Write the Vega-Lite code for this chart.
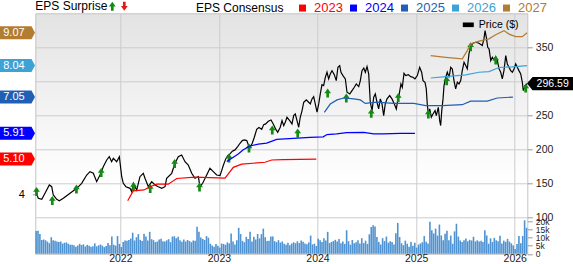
{
  "$schema": "https://vega.github.io/schema/vega-lite/v6.json",
  "width": 492,
  "height": 240.5,
  "autosize": {"type": "none"},
  "padding": {"left": 35.3, "top": 13.3, "right": 45.7, "bottom": 10.2},
  "background": "#ffffff",
  "view": {
    "stroke": "#c4c4c4",
    "strokeWidth": 1,
    "fill": {
      "gradient": "linear", "x1": 0, "y1": 0, "x2": 0, "y2": 1,
      "stops": [
        {"offset": 0, "color": "#e3e3e3"},
        {"offset": 0.45, "color": "#f5f5f5"},
        {"offset": 0.7, "color": "#ffffff"},
        {"offset": 1, "color": "#ffffff"}
      ]
    }
  },
  "config": {
    "font": "Liberation Sans",
    "axis": {"gridColor": "#cccccc", "gridWidth": 1, "domain": false, "tickColor": "#9a9a9a", "labelColor": "#222222", "labelFont": "Liberation Sans"},
    "legend": {"labelFont": "Liberation Sans", "titleFont": "Liberation Sans"}
  },
  "datasets": {
    "price": [
      {"t": 2021.138, "price": 140.0}, {"t": 2021.145, "price": 137.6}, {"t": 2021.168, "price": 127.9}, {"t": 2021.203, "price": 126.5},
      {"t": 2021.236, "price": 135.3}, {"t": 2021.280, "price": 147.5}, {"t": 2021.304, "price": 145.0}, {"t": 2021.320, "price": 132.8},
      {"t": 2021.355, "price": 126.5}, {"t": 2021.381, "price": 124.4}, {"t": 2021.422, "price": 127.9}, {"t": 2021.490, "price": 135.3},
      {"t": 2021.558, "price": 142.6}, {"t": 2021.608, "price": 150.0}, {"t": 2021.659, "price": 162.2}, {"t": 2021.692, "price": 167.1},
      {"t": 2021.726, "price": 164.7}, {"t": 2021.760, "price": 152.4}, {"t": 2021.794, "price": 162.2}, {"t": 2021.827, "price": 174.4},
      {"t": 2021.862, "price": 184.3}, {"t": 2021.888, "price": 189.1}, {"t": 2021.912, "price": 181.8}, {"t": 2021.929, "price": 186.8},
      {"t": 2021.963, "price": 181.8}, {"t": 2021.990, "price": 189.1}, {"t": 2022.014, "price": 159.7}, {"t": 2022.030, "price": 150.0},
      {"t": 2022.057, "price": 145.0}, {"t": 2022.098, "price": 142.6}, {"t": 2022.115, "price": 137.6}, {"t": 2022.132, "price": 150.0},
      {"t": 2022.166, "price": 140.1}, {"t": 2022.199, "price": 159.7}, {"t": 2022.233, "price": 164.7}, {"t": 2022.250, "price": 157.4},
      {"t": 2022.284, "price": 145.0}, {"t": 2022.318, "price": 152.4}, {"t": 2022.352, "price": 147.5}, {"t": 2022.385, "price": 145.0},
      {"t": 2022.420, "price": 142.6}, {"t": 2022.453, "price": 145.0}, {"t": 2022.470, "price": 157.4}, {"t": 2022.521, "price": 164.7},
      {"t": 2022.554, "price": 179.4}, {"t": 2022.588, "price": 189.1}, {"t": 2022.622, "price": 191.6}, {"t": 2022.656, "price": 181.8},
      {"t": 2022.689, "price": 176.9}, {"t": 2022.724, "price": 164.7}, {"t": 2022.757, "price": 157.4}, {"t": 2022.791, "price": 159.7},
      {"t": 2022.808, "price": 145.0}, {"t": 2022.835, "price": 150.0}, {"t": 2022.876, "price": 162.2}, {"t": 2022.909, "price": 172.1},
      {"t": 2022.943, "price": 167.1}, {"t": 2022.977, "price": 162.2}, {"t": 2023.011, "price": 161.4}, {"t": 2023.028, "price": 168.7},
      {"t": 2023.044, "price": 176.1}, {"t": 2023.069, "price": 185.9}, {"t": 2023.089, "price": 190.8}, {"t": 2023.112, "price": 193.2},
      {"t": 2023.136, "price": 197.3}, {"t": 2023.163, "price": 199.1}, {"t": 2023.190, "price": 204.0}, {"t": 2023.214, "price": 208.9},
      {"t": 2023.237, "price": 212.8}, {"t": 2023.257, "price": 213.8}, {"t": 2023.282, "price": 212.8}, {"t": 2023.298, "price": 206.9},
      {"t": 2023.315, "price": 203.0}, {"t": 2023.338, "price": 208.9}, {"t": 2023.359, "price": 217.7}, {"t": 2023.383, "price": 229.5},
      {"t": 2023.406, "price": 232.1}, {"t": 2023.434, "price": 229.5}, {"t": 2023.454, "price": 236.3}, {"t": 2023.474, "price": 237.3},
      {"t": 2023.501, "price": 241.2}, {"t": 2023.528, "price": 243.1}, {"t": 2023.551, "price": 237.3}, {"t": 2023.576, "price": 229.6},
      {"t": 2023.596, "price": 225.1}, {"t": 2023.622, "price": 232.4}, {"t": 2023.640, "price": 242.2}, {"t": 2023.657, "price": 234.9},
      {"t": 2023.673, "price": 239.8}, {"t": 2023.690, "price": 247.1}, {"t": 2023.718, "price": 242.2}, {"t": 2023.741, "price": 237.3},
      {"t": 2023.758, "price": 249.6}, {"t": 2023.774, "price": 252.0}, {"t": 2023.792, "price": 242.2}, {"t": 2023.809, "price": 232.4},
      {"t": 2023.825, "price": 247.1}, {"t": 2023.843, "price": 256.9}, {"t": 2023.860, "price": 269.2}, {"t": 2023.886, "price": 272.6},
      {"t": 2023.910, "price": 269.2}, {"t": 2023.927, "price": 266.9}, {"t": 2023.944, "price": 274.1}, {"t": 2023.961, "price": 277.5},
      {"t": 2023.977, "price": 266.7}, {"t": 2023.995, "price": 254.5}, {"t": 2024.012, "price": 266.7}, {"t": 2024.028, "price": 281.4},
      {"t": 2024.045, "price": 295.1}, {"t": 2024.062, "price": 293.7}, {"t": 2024.079, "price": 305.9}, {"t": 2024.096, "price": 313.3},
      {"t": 2024.113, "price": 303.5}, {"t": 2024.129, "price": 310.8}, {"t": 2024.147, "price": 315.7}, {"t": 2024.170, "price": 309.8},
      {"t": 2024.190, "price": 301.0}, {"t": 2024.207, "price": 320.6}, {"t": 2024.225, "price": 323.1}, {"t": 2024.238, "price": 313.3},
      {"t": 2024.258, "price": 308.4}, {"t": 2024.282, "price": 303.5}, {"t": 2024.299, "price": 283.9}, {"t": 2024.327, "price": 281.4},
      {"t": 2024.350, "price": 286.3}, {"t": 2024.373, "price": 291.2}, {"t": 2024.393, "price": 296.1}, {"t": 2024.418, "price": 292.2},
      {"t": 2024.434, "price": 301.0}, {"t": 2024.451, "price": 315.7}, {"t": 2024.469, "price": 319.6}, {"t": 2024.485, "price": 313.3},
      {"t": 2024.502, "price": 321.6}, {"t": 2024.519, "price": 310.8}, {"t": 2024.535, "price": 269.2}, {"t": 2024.553, "price": 256.9},
      {"t": 2024.570, "price": 276.5}, {"t": 2024.586, "price": 281.4}, {"t": 2024.603, "price": 269.2}, {"t": 2024.620, "price": 259.4},
      {"t": 2024.637, "price": 274.1}, {"t": 2024.654, "price": 266.7}, {"t": 2024.671, "price": 249.6}, {"t": 2024.687, "price": 266.7},
      {"t": 2024.705, "price": 274.1}, {"t": 2024.732, "price": 279.0}, {"t": 2024.755, "price": 274.1}, {"t": 2024.779, "price": 266.7},
      {"t": 2024.799, "price": 259.4}, {"t": 2024.813, "price": 271.6}, {"t": 2024.829, "price": 281.4}, {"t": 2024.846, "price": 296.1},
      {"t": 2024.860, "price": 291.2}, {"t": 2024.877, "price": 311.8}, {"t": 2024.894, "price": 308.4}, {"t": 2024.921, "price": 309.8},
      {"t": 2024.945, "price": 306.9}, {"t": 2024.968, "price": 305.9}, {"t": 2024.988, "price": 303.5}, {"t": 2025.012, "price": 308.4},
      {"t": 2025.036, "price": 320.6}, {"t": 2025.056, "price": 313.3}, {"t": 2025.070, "price": 301.0}, {"t": 2025.090, "price": 298.6},
      {"t": 2025.103, "price": 288.8}, {"t": 2025.113, "price": 266.7}, {"t": 2025.124, "price": 252.0}, {"t": 2025.138, "price": 259.4},
      {"t": 2025.154, "price": 247.1}, {"t": 2025.171, "price": 252.0}, {"t": 2025.192, "price": 256.9}, {"t": 2025.205, "price": 249.6},
      {"t": 2025.225, "price": 261.8}, {"t": 2025.239, "price": 242.2}, {"t": 2025.249, "price": 234.9}, {"t": 2025.260, "price": 256.9},
      {"t": 2025.273, "price": 274.1}, {"t": 2025.283, "price": 293.7}, {"t": 2025.300, "price": 305.9}, {"t": 2025.316, "price": 313.3},
      {"t": 2025.334, "price": 305.9}, {"t": 2025.351, "price": 320.6}, {"t": 2025.367, "price": 318.2}, {"t": 2025.384, "price": 301.0},
      {"t": 2025.401, "price": 288.8}, {"t": 2025.418, "price": 298.6}, {"t": 2025.435, "price": 296.1}, {"t": 2025.452, "price": 301.0},
      {"t": 2025.468, "price": 315.7}, {"t": 2025.486, "price": 327.9}, {"t": 2025.503, "price": 323.1}, {"t": 2025.519, "price": 318.2},
      {"t": 2025.536, "price": 340.2}, {"t": 2025.553, "price": 352.5}, {"t": 2025.577, "price": 355.9}, {"t": 2025.604, "price": 357.4},
      {"t": 2025.638, "price": 355.9}, {"t": 2025.671, "price": 352.5}, {"t": 2025.688, "price": 362.3}, {"t": 2025.699, "price": 374.5},
      {"t": 2025.712, "price": 364.7}, {"t": 2025.726, "price": 350.0}, {"t": 2025.740, "price": 347.6}, {"t": 2025.757, "price": 330.4},
      {"t": 2025.773, "price": 335.3}, {"t": 2025.790, "price": 331.4}, {"t": 2025.807, "price": 336.3}, {"t": 2025.824, "price": 330.4},
      {"t": 2025.841, "price": 318.2}, {"t": 2025.858, "price": 313.3}, {"t": 2025.874, "price": 303.5}, {"t": 2025.891, "price": 315.7},
      {"t": 2025.909, "price": 337.8}, {"t": 2025.925, "price": 325.5}, {"t": 2025.942, "price": 320.6}, {"t": 2025.959, "price": 315.7},
      {"t": 2025.976, "price": 313.3}, {"t": 2025.993, "price": 318.2}, {"t": 2026.010, "price": 325.5}, {"t": 2026.026, "price": 320.6},
      {"t": 2026.043, "price": 315.7}, {"t": 2026.061, "price": 310.8}, {"t": 2026.077, "price": 298.6}, {"t": 2026.087, "price": 286.3},
      {"t": 2026.105, "price": 293.7}, {"t": 2026.125, "price": 296.59}
    ],
    "surprise": [
      {"t": 2021.150, "price": 138.0, "result": "beat"}, {"t": 2021.310, "price": 124.7, "result": "beat"},
      {"t": 2021.555, "price": 141.6, "result": "beat"}, {"t": 2021.806, "price": 165.9, "result": "beat"},
      {"t": 2022.134, "price": 145.3, "result": "beat"}, {"t": 2022.303, "price": 142.4, "result": "beat"},
      {"t": 2022.551, "price": 179.1, "result": "beat"}, {"t": 2022.803, "price": 144.6, "result": "beat"},
      {"t": 2023.102, "price": 187.2, "result": "beat"}, {"t": 2023.305, "price": 201.9, "result": "beat"},
      {"t": 2023.541, "price": 228.4, "result": "beat"}, {"t": 2023.799, "price": 224.0, "result": "beat"},
      {"t": 2024.103, "price": 282.8, "result": "beat"}, {"t": 2024.292, "price": 275.4, "result": "beat"},
      {"t": 2024.545, "price": 252.9, "result": "beat"}, {"t": 2024.819, "price": 276.2, "result": "beat"},
      {"t": 2025.124, "price": 251.9, "result": "beat"}, {"t": 2025.310, "price": 300.9, "result": "beat"},
      {"t": 2025.553, "price": 350.9, "result": "beat"}, {"t": 2025.807, "price": 331.3, "result": "beat"},
      {"t": 2026.111, "price": 290.1, "result": "beat"}
    ],
    "consensus": [
      {"t": 2022.075, "eps": 3.79, "year": "2023"}, {"t": 2022.131, "eps": 4.10, "year": "2023"}, {"t": 2022.240, "eps": 4.13, "year": "2023"},
      {"t": 2022.301, "eps": 4.23, "year": "2023"}, {"t": 2022.369, "eps": 4.31, "year": "2023"}, {"t": 2022.486, "eps": 4.31, "year": "2023"},
      {"t": 2022.572, "eps": 4.49, "year": "2023"}, {"t": 2022.757, "eps": 4.53, "year": "2023"}, {"t": 2023.062, "eps": 4.50, "year": "2023"},
      {"t": 2023.146, "eps": 4.84, "year": "2023"}, {"t": 2023.231, "eps": 4.94, "year": "2023"}, {"t": 2023.467, "eps": 5.00, "year": "2023"},
      {"t": 2023.535, "eps": 5.07, "year": "2023"}, {"t": 2023.650, "eps": 5.08, "year": "2023"}, {"t": 2023.988, "eps": 5.10, "year": "2023"},
      {"t": 2023.079, "eps": 5.02, "year": "2024"}, {"t": 2023.196, "eps": 5.26, "year": "2024"}, {"t": 2023.247, "eps": 5.39, "year": "2024"},
      {"t": 2023.315, "eps": 5.51, "year": "2024"}, {"t": 2023.399, "eps": 5.57, "year": "2024"}, {"t": 2023.484, "eps": 5.60, "year": "2024"},
      {"t": 2023.586, "eps": 5.72, "year": "2024"}, {"t": 2023.754, "eps": 5.75, "year": "2024"}, {"t": 2023.924, "eps": 5.78, "year": "2024"},
      {"t": 2024.058, "eps": 5.80, "year": "2024"}, {"t": 2024.096, "eps": 5.87, "year": "2024"}, {"t": 2024.194, "eps": 5.89, "year": "2024"},
      {"t": 2024.296, "eps": 5.93, "year": "2024"}, {"t": 2024.468, "eps": 5.94, "year": "2024"}, {"t": 2024.570, "eps": 5.89, "year": "2024"},
      {"t": 2024.667, "eps": 5.89, "year": "2024"}, {"t": 2024.836, "eps": 5.91, "year": "2024"}, {"t": 2024.988, "eps": 5.91, "year": "2024"},
      {"t": 2024.069, "eps": 6.57, "year": "2025"}, {"t": 2024.129, "eps": 6.83, "year": "2025"}, {"t": 2024.198, "eps": 6.96, "year": "2025"},
      {"t": 2024.265, "eps": 7.02, "year": "2025"}, {"t": 2024.367, "eps": 6.99, "year": "2025"}, {"t": 2024.434, "eps": 6.96, "year": "2025"},
      {"t": 2024.484, "eps": 6.85, "year": "2025"}, {"t": 2024.603, "eps": 6.89, "year": "2025"}, {"t": 2024.772, "eps": 6.85, "year": "2025"},
      {"t": 2024.978, "eps": 6.85, "year": "2025"}, {"t": 2025.097, "eps": 6.78, "year": "2025"}, {"t": 2025.265, "eps": 6.78, "year": "2025"},
      {"t": 2025.468, "eps": 6.81, "year": "2025"}, {"t": 2025.553, "eps": 6.92, "year": "2025"}, {"t": 2025.722, "eps": 6.92, "year": "2025"},
      {"t": 2025.823, "eps": 7.02, "year": "2025"}, {"t": 2025.982, "eps": 7.05, "year": "2025"},
      {"t": 2025.148, "eps": 7.65, "year": "2026"}, {"t": 2025.300, "eps": 7.69, "year": "2026"}, {"t": 2025.503, "eps": 7.75, "year": "2026"},
      {"t": 2025.638, "eps": 7.83, "year": "2026"}, {"t": 2025.739, "eps": 7.85, "year": "2026"}, {"t": 2025.840, "eps": 7.98, "year": "2026"},
      {"t": 2025.975, "eps": 8.00, "year": "2026"}, {"t": 2026.125, "eps": 8.04, "year": "2026"},
      {"t": 2025.148, "eps": 8.35, "year": "2027"}, {"t": 2025.300, "eps": 8.30, "year": "2027"}, {"t": 2025.468, "eps": 8.25, "year": "2027"},
      {"t": 2025.519, "eps": 8.51, "year": "2027"}, {"t": 2025.553, "eps": 8.72, "year": "2027"}, {"t": 2025.638, "eps": 8.81, "year": "2027"},
      {"t": 2025.739, "eps": 8.88, "year": "2027"}, {"t": 2025.807, "eps": 9.01, "year": "2027"}, {"t": 2025.891, "eps": 9.14, "year": "2027"},
      {"t": 2025.942, "eps": 9.03, "year": "2027"}, {"t": 2026.010, "eps": 8.95, "year": "2027"}, {"t": 2026.077, "eps": 8.95, "year": "2027"},
      {"t": 2026.125, "eps": 9.07, "year": "2027"}
    ],
    "latest_eps": [
      {"year": "2023", "eps": 5.10}, {"year": "2024", "eps": 5.91}, {"year": "2025", "eps": 7.05},
      {"year": "2026", "eps": 8.04}, {"year": "2027", "eps": 9.07}
    ],
    "last_price": [{"price": 296.59}],
    "volume": [
      {"w":1,"v":14000},{"w":2,"v":14200},{"w":3,"v":12200},{"w":4,"v":8500},{"w":5,"v":8800},{"w":6,"v":8300},{"w":7,"v":7500},{"w":8,"v":6500},{"w":9,"v":10200},{"w":10,"v":8400},
      {"w":11,"v":8000},{"w":12,"v":7600},{"w":13,"v":7200},{"w":14,"v":7600},{"w":15,"v":6300},{"w":16,"v":6800},{"w":17,"v":7000},{"w":18,"v":6200},{"w":19,"v":5600},{"w":20,"v":5500},
      {"w":21,"v":5200},{"w":22,"v":4400},{"w":23,"v":5100},{"w":24,"v":6100},{"w":25,"v":5400},{"w":26,"v":5800},{"w":27,"v":4500},{"w":28,"v":5500},{"w":29,"v":4900},{"w":30,"v":4300},
      {"w":31,"v":4600},{"w":32,"v":6400},{"w":33,"v":4600},{"w":34,"v":5200},{"w":35,"v":5700},{"w":36,"v":5000},{"w":37,"v":4100},{"w":38,"v":4800},{"w":39,"v":6700},{"w":40,"v":5200},
      {"w":41,"v":10600},{"w":42,"v":5600},{"w":43,"v":5000},{"w":44,"v":10900},{"w":45,"v":6100},{"w":46,"v":4200},{"w":47,"v":7300},{"w":48,"v":8200},{"w":49,"v":8000},{"w":50,"v":8500},
      {"w":51,"v":9400},{"w":52,"v":13000},{"w":53,"v":8200},{"w":54,"v":10200},{"w":55,"v":12100},{"w":56,"v":8600},{"w":57,"v":7900},{"w":58,"v":12400},{"w":59,"v":10600},{"w":60,"v":8200},
      {"w":61,"v":13500},{"w":62,"v":9000},{"w":63,"v":8400},{"w":64,"v":7200},{"w":65,"v":7600},{"w":66,"v":8800},{"w":67,"v":9200},{"w":68,"v":7800},{"w":69,"v":7500},{"w":70,"v":8300},
      {"w":71,"v":9000},{"w":72,"v":7200},{"w":73,"v":10600},{"w":74,"v":10800},{"w":75,"v":9600},{"w":76,"v":10500},{"w":77,"v":8400},{"w":78,"v":7400},{"w":79,"v":8800},{"w":80,"v":7600},
      {"w":81,"v":8500},{"w":82,"v":7900},{"w":83,"v":7100},{"w":84,"v":8200},{"w":85,"v":8000},{"w":86,"v":16700},{"w":87,"v":13500},{"w":88,"v":10000},{"w":89,"v":9100},{"w":90,"v":8500},
      {"w":91,"v":10900},{"w":92,"v":9900},{"w":93,"v":6200},{"w":94,"v":5100},{"w":95,"v":4300},{"w":96,"v":6000},{"w":97,"v":5000},{"w":98,"v":3800},{"w":99,"v":6300},{"w":100,"v":6100},
      {"w":101,"v":5500},{"w":102,"v":7000},{"w":103,"v":6400},{"w":104,"v":12500},{"w":105,"v":7600},{"w":106,"v":5800},{"w":107,"v":8300},{"w":108,"v":16000},{"w":109,"v":12200},{"w":110,"v":8000},
      {"w":111,"v":7100},{"w":112,"v":10400},{"w":113,"v":9100},{"w":114,"v":13500},{"w":115,"v":7500},{"w":116,"v":10500},{"w":117,"v":8800},{"w":118,"v":12200},{"w":119,"v":9500},{"w":120,"v":12100},
      {"w":121,"v":15500},{"w":122,"v":10200},{"w":123,"v":7900},{"w":124,"v":8100},{"w":125,"v":10600},{"w":126,"v":10700},{"w":127,"v":7800},{"w":128,"v":7200},{"w":129,"v":8400},{"w":130,"v":6900},
      {"w":131,"v":7600},{"w":132,"v":6200},{"w":133,"v":5600},{"w":134,"v":6800},{"w":135,"v":5200},{"w":136,"v":6300},{"w":137,"v":7100},{"w":138,"v":6500},{"w":139,"v":7700},{"w":140,"v":6600},
      {"w":141,"v":8200},{"w":142,"v":7400},{"w":143,"v":6300},{"w":144,"v":5900},{"w":145,"v":7000},{"w":146,"v":11200},{"w":147,"v":5800},{"w":148,"v":6200},{"w":149,"v":4800},{"w":150,"v":9300},
      {"w":151,"v":8400},{"w":152,"v":7300},{"w":153,"v":9500},{"w":154,"v":8200},{"w":155,"v":13500},{"w":156,"v":6600},{"w":157,"v":7300},{"w":158,"v":7800},{"w":159,"v":8600},{"w":160,"v":7500},
      {"w":161,"v":9100},{"w":162,"v":6500},{"w":163,"v":7600},{"w":164,"v":6100},{"w":165,"v":14500},{"w":166,"v":7800},{"w":167,"v":5600},{"w":168,"v":8500},{"w":169,"v":6500},{"w":170,"v":7100},
      {"w":171,"v":8300},{"w":172,"v":6400},{"w":173,"v":9600},{"w":174,"v":6600},{"w":175,"v":8100},{"w":176,"v":6100},{"w":177,"v":12000},{"w":178,"v":16500},{"w":179,"v":17500},{"w":180,"v":16800},
      {"w":181,"v":10300},{"w":182,"v":7200},{"w":183,"v":5700},{"w":184,"v":9600},{"w":185,"v":7800},{"w":186,"v":10600},{"w":187,"v":6800},{"w":188,"v":7800},{"w":189,"v":7200},{"w":190,"v":5700},
      {"w":191,"v":12600},{"w":192,"v":19000},{"w":193,"v":10300},{"w":194,"v":6500},{"w":195,"v":5300},{"w":196,"v":8100},{"w":197,"v":6200},{"w":198,"v":4400},{"w":199,"v":7200},{"w":200,"v":5000},
      {"w":201,"v":6800},{"w":202,"v":3800},{"w":203,"v":5700},{"w":204,"v":6400},{"w":205,"v":7100},{"w":206,"v":10900},{"w":207,"v":7400},{"w":208,"v":6300},{"w":209,"v":19800},{"w":210,"v":14500},
      {"w":211,"v":12500},{"w":212,"v":15500},{"w":213,"v":11200},{"w":214,"v":18000},{"w":215,"v":11300},{"w":216,"v":8300},{"w":217,"v":12300},{"w":218,"v":14200},{"w":219,"v":8400},{"w":220,"v":11200},
      {"w":221,"v":6200},{"w":222,"v":13800},{"w":223,"v":18500},{"w":224,"v":10600},{"w":225,"v":8200},{"w":226,"v":7300},{"w":227,"v":8400},{"w":228,"v":9400},{"w":229,"v":7700},{"w":230,"v":8600},
      {"w":231,"v":8200},{"w":232,"v":10500},{"w":233,"v":7600},{"w":234,"v":8300},{"w":235,"v":7500},{"w":236,"v":8100},{"w":237,"v":7300},{"w":238,"v":14500},{"w":239,"v":11300},{"w":240,"v":6200},
      {"w":241,"v":9500},{"w":242,"v":7300},{"w":243,"v":9800},{"w":244,"v":8300},{"w":245,"v":7700},{"w":246,"v":11100},{"w":247,"v":6300},{"w":248,"v":8100},{"w":249,"v":7400},{"w":250,"v":9200},
      {"w":251,"v":7500},{"w":252,"v":6400},{"w":253,"v":5200},{"w":254,"v":3000},{"w":255,"v":6100},{"w":256,"v":10900},{"w":257,"v":6500},{"w":258,"v":11000},{"w":259,"v":20600},{"w":260,"v":16000}
    ]
  },
  "layer": [
    {
      "layer": [
        {
          "data": {"name": "price"},
          "mark": {"type": "line", "strokeWidth": 1.2},
          "encoding": {
            "x": {
              "field": "t", "type": "quantitative",
              "scale": {"domain": [2021.1376, 2026.1276], "nice": false, "zero": false},
              "axis": {"values": [2022, 2023, 2024, 2025, 2026], "format": "d", "grid": true, "ticks": false, "labelPadding": 0, "labelFontSize": 10.5, "labelFlush": false, "title": null}
            },
            "y": {
              "field": "price", "type": "quantitative",
              "scale": {"domain": [46.32, 400], "nice": false, "zero": false},
              "axis": {"orient": "right", "values": [100, 150, 200, 250, 300, 350], "labelExpr": "datum.value == 300 ? '' : datum.label", "grid": true, "tickSize": 5, "labelPadding": 3, "labelFontSize": 10.5, "title": null}
            },
            "stroke": {
              "datum": "Price ($)",
              "scale": {"range": ["#000000"]},
              "legend": {
                "title": null, "orient": "none", "legendX": 427.5, "legendY": 6,
                "symbolType": "M-1,-0.42L1,-0.42L1,0.42L-1,0.42Z", "symbolSize": 121,
                "symbolFillColor": "#000000", "symbolStrokeWidth": 0,
                "labelFontSize": 10.5, "labelOffset": 5, "labelColor": "#000000"
              }
            }
          }
        },
        {
          "data": {"name": "surprise"},
          "mark": {"type": "point", "filled": true, "size": 81, "opacity": 1},
          "encoding": {
            "x": {"field": "t", "type": "quantitative", "scale": {"domain": [2021.1376, 2026.1276], "nice": false, "zero": false}},
            "y": {"field": "price", "type": "quantitative", "scale": {"domain": [46.32, 400], "nice": false, "zero": false}},
            "fill": {
              "field": "result", "type": "nominal",
              "scale": {"domain": ["beat", "miss"], "range": ["#138a13", "#e31a1a"]},
              "legend": {
                "title": "EPS Surprise", "orient": "none", "legendX": 0, "legendY": -12,
                "direction": "horizontal", "titleOrient": "left", "titleFontSize": 12,
                "titleFontWeight": "normal", "titleColor": "#000000", "titlePadding": -1,
                "labelExpr": "''", "labelOffset": 0, "columnPadding": 2, "symbolSize": 81,
                "symbolStrokeWidth": 0
              }
            },
            "shape": {
              "field": "result", "type": "nominal",
              "scale": {"domain": ["beat", "miss"], "range": ["M0,-1L0.75,0.05L0.3,0.05L0.3,1L-0.3,1L-0.3,0.05L-0.75,0.05Z", "M0,1L0.75,-0.05L0.3,-0.05L0.3,-1L-0.3,-1L-0.3,-0.05L-0.75,-0.05Z"]},
              "legend": {
                "title": "EPS Surprise", "orient": "none", "legendX": 0, "legendY": -12,
                "direction": "horizontal", "titleOrient": "left", "titleFontSize": 12,
                "titleFontWeight": "normal", "titleColor": "#000000", "titlePadding": -1,
                "labelExpr": "''", "labelOffset": 0, "columnPadding": 2, "symbolSize": 81,
                "symbolStrokeWidth": 0
              }
            }
          }
        },
        {
          "data": {"name": "last_price"},
          "mark": {"type": "point", "filled": true, "opacity": 1, "size": 2116, "color": "#000000", "shape": "M-1,0L-0.76,-0.283L1,-0.283L1,0.283L-0.76,0.283Z"},
          "encoding": {
            "x": {"datum": 2026.358, "type": "quantitative", "scale": {"domain": [2021.1376, 2026.1276], "nice": false, "zero": false}},
            "y": {"field": "price", "type": "quantitative", "scale": {"domain": [46.32, 400], "nice": false, "zero": false}}
          }
        },
        {
          "data": {"name": "last_price"},
          "mark": {"type": "text", "color": "#ffffff", "fontSize": 10.5, "align": "center", "baseline": "middle"},
          "encoding": {
            "x": {"datum": 2026.385, "type": "quantitative", "scale": {"domain": [2021.1376, 2026.1276], "nice": false, "zero": false}},
            "y": {"field": "price", "type": "quantitative", "scale": {"domain": [46.32, 400], "nice": false, "zero": false}},
            "text": {"field": "price", "format": ".2f"}
          }
        }
      ]
    },
    {
      "layer": [
        {
          "data": {"name": "consensus"},
          "mark": {"type": "line", "strokeWidth": 1.2},
          "encoding": {
            "x": {"field": "t", "type": "quantitative", "scale": {"domain": [2021.1376, 2026.1276], "nice": false, "zero": false}, "axis": null},
            "y": {
              "field": "eps", "type": "quantitative",
              "scale": {"domain": [2.121, 9.684], "nice": false, "zero": false},
              "axis": {"orient": "left", "values": [4], "grid": false, "tickSize": 3, "labelPadding": 8, "labelFontSize": 11, "labelColor": "#000000", "title": null}
            },
            "color": {
              "field": "year", "type": "nominal",
              "scale": {"domain": ["2023", "2024", "2025", "2026", "2027"], "range": ["#ff0000", "#0000ff", "#1f60b4", "#3da2d5", "#b27c31"]},
              "legend": {
                "title": "EPS Consensus", "orient": "none", "legendX": 160.7, "legendY": -12,
                "direction": "horizontal", "titleOrient": "left", "titleFontSize": 12,
                "titleFontWeight": "normal", "titleColor": "#000000", "titlePadding": 12,
                "symbolType": "square", "symbolSize": 49, "symbolStrokeWidth": 0,
                "labelFontSize": 13, "labelOffset": 5, "columnPadding": 4,
                "encode": {
                  "symbols": {"update": {"fill": {"scale": "color", "field": "value"}, "strokeWidth": {"value": 0}}},
                  "labels": {"update": {"fill": {"scale": "color", "field": "value"}}}
                }
              }
            }
          }
        },
        {
          "data": {"name": "latest_eps"},
          "mark": {"type": "point", "filled": true, "opacity": 1, "size": 1225, "shape": "M-1,-0.371L0.8,-0.371L1,0L0.8,0.371L-1,0.371Z"},
          "encoding": {
            "x": {"datum": 2020.957, "type": "quantitative", "scale": {"domain": [2021.1376, 2026.1276], "nice": false, "zero": false}},
            "y": {"field": "eps", "type": "quantitative", "scale": {"domain": [2.121, 9.684], "nice": false, "zero": false}},
            "color": {"field": "year", "type": "nominal"}
          }
        },
        {
          "data": {"name": "latest_eps"},
          "mark": {"type": "text", "color": "#ffffff", "fontSize": 11, "align": "center", "baseline": "middle"},
          "encoding": {
            "x": {"datum": 2020.921, "type": "quantitative", "scale": {"domain": [2021.1376, 2026.1276], "nice": false, "zero": false}},
            "y": {"field": "eps", "type": "quantitative", "scale": {"domain": [2.121, 9.684], "nice": false, "zero": false}},
            "text": {"field": "eps", "format": ".2f"}
          }
        }
      ]
    },
    {
      "layer": [
        {
          "data": {"name": "volume"},
          "mark": {"type": "bar", "color": "#4f93d2"},
          "encoding": {
            "x": {"field": "w", "type": "ordinal", "scale": {"paddingInner": 0.15, "paddingOuter": 0}, "axis": null},
            "y": {
              "field": "v", "type": "quantitative",
              "scale": {"domain": [0, 148000], "nice": false},
              "axis": {"orient": "right", "values": [0, 5000, 10000, 15000, 20000], "labelExpr": "datum.value == 0 ? '0' : (datum.value / 1000) + 'k'", "labelOverlap": false, "grid": false, "tickSize": 5, "labelPadding": 3, "labelFontSize": 8.5, "title": null}
            }
          }
        },
        {
          "mark": {"type": "text", "text": "Volume", "color": "#3a87cf", "fontSize": 12, "align": "left", "baseline": "middle"},
          "encoding": {
            "x": {"datum": 6, "type": "ordinal"},
            "y": {"datum": 15300, "type": "quantitative"}
          }
        }
      ]
    }
  ],
  "resolve": {"scale": {"x": "independent", "y": "independent"}}
}
